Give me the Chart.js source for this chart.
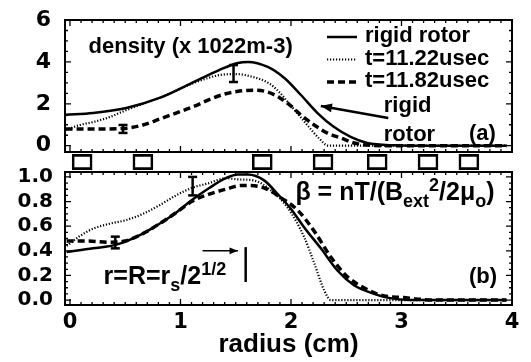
<!DOCTYPE html>
<html>
<head>
<meta charset="utf-8">
<script src="https://cdn.jsdelivr.net/npm/chart.js@4.4.0/dist/chart.umd.min.js"></script>
<style>
  body { margin: 0; background: #fff; }
  #wrap { position: relative; width: 531px; height: 362px; overflow: hidden; }
  canvas { position: absolute; left: 0; }
</style>
</head>
<body>
<div id="wrap">
  <canvas id="top" width="531" height="160" style="top:0"></canvas>
  <canvas id="bottom" width="531" height="202" style="top:160px"></canvas>
  <canvas id="strip" width="531" height="20" style="top:152px"></canvas>
</div>
<script>
// Tick labels
const xTicks = [0, 1, 2, 3, 4];
const densityTicks = [0, 2, 4, 6];
const betaTicks = [0, 0.2, 0.4, 0.6, 0.8, 1.0];
const seriesNames = ['rigid rotor', 't=11.22usec', 't=11.82usec'];

// (a) density, x 10^22 m^-3
const rigidDensityR = [-0.04, 0.21, 0.51, 0.81, 1.10, 1.35, 1.52, 1.61, 1.79, 1.94, 2.09, 2.24, 2.39, 2.54, 2.69, 2.93, 3.2, 3.5, 3.95];
const rigidDensity  = [1.47, 1.56, 1.80, 2.28, 2.99, 3.61, 3.95, 4.0, 3.76, 3.23, 2.42, 1.56, 0.89, 0.42, 0.13, 0.02, 0, 0, 0];
const early1DensityR = [-0.04, 0.09, 0.21, 0.36, 0.51, 0.65, 0.81, 1.10, 1.26, 1.35, 1.50, 1.65, 1.80, 1.89, 1.98, 2.07, 2.16, 2.25, 2.34, 2.6, 3.0, 3.5, 3.95];
const early1Density  = [0.75, 0.99, 1.13, 1.37, 1.70, 1.98, 2.28, 2.95, 3.25, 3.37, 3.42, 3.29, 2.98, 2.58, 2.03, 1.47, 0.91, 0.37, 0.0, 0, 0, 0, 0];
const early2DensityR = [-0.04, 0.2, 0.48, 0.66, 0.81, 0.96, 1.11, 1.26, 1.41, 1.55, 1.66, 1.79, 1.9, 1.99, 2.09, 2.21, 2.33, 2.45, 2.57, 2.69, 2.9, 3.2, 3.95];
const early2Density  = [0.80, 0.80, 0.82, 0.99, 1.27, 1.56, 1.85, 2.20, 2.48, 2.62, 2.65, 2.56, 2.28, 1.94, 1.47, 0.99, 0.60, 0.37, 0.13, 0.03, 0, 0, 0];
const densityErrR  = [0.48, 1.48];
const densityErrLo = [0.61, 3.04];
const densityErrHi = [0.99, 3.85];

// (b) beta
const rigidBetaR = [-0.03, 0.21, 0.42, 0.66, 0.81, 0.96, 1.10, 1.26, 1.41, 1.52, 1.61, 1.76, 1.88, 2.0, 2.12, 2.27, 2.42, 2.57, 2.72, 2.87, 3.08, 3.5, 3.95];
const rigidBeta  = [0.39, 0.42, 0.45, 0.54, 0.62, 0.71, 0.81, 0.91, 0.99, 1.02, 1.02, 0.97, 0.86, 0.74, 0.59, 0.42, 0.24, 0.12, 0.06, 0.02, 0.0, 0, 0];
const early1BetaR = [-0.03, 0.09, 0.21, 0.36, 0.51, 0.66, 0.81, 0.96, 1.10, 1.26, 1.41, 1.52, 1.67, 1.82, 1.97, 2.12, 2.21, 2.30, 2.36, 2.6, 3.0, 3.5, 3.95];
const early1Beta  = [0.44, 0.52, 0.58, 0.62, 0.65, 0.70, 0.77, 0.85, 0.91, 0.95, 0.99, 0.98, 0.97, 0.89, 0.75, 0.51, 0.30, 0.08, 0, 0, 0, 0, 0];
const early2BetaR = [-0.03, 0.15, 0.36, 0.5, 0.66, 0.81, 0.96, 1.10, 1.26, 1.41, 1.55, 1.61, 1.76, 1.91, 2.06, 2.21, 2.36, 2.51, 2.66, 2.81, 3.02, 3.3, 3.95];
const early2Beta  = [0.48, 0.48, 0.47, 0.48, 0.54, 0.62, 0.71, 0.80, 0.86, 0.90, 0.93, 0.93, 0.91, 0.83, 0.73, 0.56, 0.35, 0.19, 0.10, 0.04, 0.02, 0.0, 0];
const betaErrR  = [0.41, 1.11];
const betaErrLo = [0.42, 0.85];
const betaErrHi = [0.515, 1.0];

// probe positions (squares between panels)
const probeR = [0.11, 0.66, 1.74, 2.29, 2.78, 3.24, 3.61];

const X_MIN = -0.045, X_MAX = 4;
const PROBE_BOX = [0.12, 0.88]; // высота квадратика в полосе 0..1
const tickFont = size => ({ family: 'DejaVu Sans', size: size, weight: 'bold' });
const textFont = size => 'bold ' + size + 'px "Liberation Sans", Arial, sans-serif';

const lineStyles = [
  { borderWidth: 2.5, borderDash: [] },
  { borderWidth: 2.2, borderDash: [1.2, 1.8] },
  { borderWidth: 3.5, borderDash: [7, 4] }
];

function zip(xs, ys) {
  return xs.map((x, i) => ({ x: x, y: ys[i] }));
}

// три кривые + планки ошибок
function makeDatasets(curves, errR, errLo, errHi) {
  const sets = curves.map((c, i) => ({
    label: seriesNames[i],
    data: zip(c[0], c[1]),
    borderColor: '#000',
    borderWidth: lineStyles[i].borderWidth,
    borderDash: lineStyles[i].borderDash,
    pointRadius: 0,
    tension: 0.4,
    cubicInterpolationMode: 'monotone',
    fill: false
  }));
  errR.forEach((r, i) => {
    sets.push({
      errorBar: true,
      data: [{ x: r, y: errLo[i] }, { x: r, y: errHi[i] }],
      borderColor: '#000',
      borderWidth: 2.5,
      pointStyle: 'line',
      pointRadius: 4.5,
      pointBorderWidth: 2.5,
      pointBorderColor: '#000'
    });
  });
  return sets;
}

// фиксированная ширина/высота оси без запаса под подписи
const fixSize = (w, h) => s => {
  if (w) s.width = w;
  if (h) s.height = h;
  s.paddingTop = 0; s.paddingBottom = 0; s.paddingLeft = 0; s.paddingRight = 0;
};

// рамка и внутренние засечки
const framePlugin = {
  id: 'frame',
  afterDraw(chart, args, opts) {
    const { ctx, chartArea: a, scales: { x, y } } = chart;
    ctx.save();
    ctx.strokeStyle = '#000';
    ctx.lineWidth = 1.3;
    const marks = (scale, minor, major, draw) => {
      const n0 = Math.ceil(scale.min / minor - 1e-6);
      const n1 = Math.floor(scale.max / minor + 1e-6);
      for (let n = n0; n <= n1; n++) {
        const v = n * minor;
        const isMajor = Math.abs(v / major - Math.round(v / major)) < 1e-6;
        draw(scale.getPixelForValue(v), isMajor ? opts.majorLen : opts.minorLen);
      }
    };
    ctx.beginPath();
    marks(x, opts.xMinor, opts.xMajor, (p, len) => {
      ctx.moveTo(p, a.bottom); ctx.lineTo(p, a.bottom - len);
      ctx.moveTo(p, a.top); ctx.lineTo(p, a.top + len);
    });
    marks(y, opts.yMinor, opts.yMajor, (p, len) => {
      ctx.moveTo(a.left, p); ctx.lineTo(a.left + len, p);
      ctx.moveTo(a.right, p); ctx.lineTo(a.right - len, p);
    });
    ctx.stroke();
    ctx.lineWidth = 2;
    ctx.strokeRect(a.left, a.top, a.right - a.left, a.bottom - a.top);
    ctx.restore();
  }
};

function arrowHead(ctx, x0, y0, x1, y1, len) {
  const ang = Math.atan2(y1 - y0, x1 - x0);
  ctx.beginPath();
  ctx.moveTo(x1, y1);
  ctx.lineTo(x1 - len * Math.cos(ang - 0.38), y1 - len * Math.sin(ang - 0.38));
  ctx.lineTo(x1 - len * Math.cos(ang + 0.38), y1 - len * Math.sin(ang + 0.38));
  ctx.closePath();
  ctx.fill();
}

// надписи, стрелки, отметки
const notesPlugin = {
  id: 'notes',
  afterDraw(chart, args, opts) {
    const { ctx, scales: { x, y } } = chart;
    ctx.save();
    ctx.fillStyle = '#000';
    ctx.strokeStyle = '#000';
    ctx.textBaseline = 'alphabetic';
    ctx.textAlign = 'left';
    (opts.texts || []).forEach(t => {
      let cx = x.getPixelForValue(t.x);
      const cy = y.getPixelForValue(t.y);
      t.parts.forEach(p => {
        const small = p.sub || p.sup;
        ctx.font = textFont(small ? Math.round(t.size * 0.72) : t.size);
        const dy = p.sub ? t.size * 0.28 : (p.sup ? -t.size * 0.36 : 0);
        ctx.fillText(p.t, cx, cy + dy);
        cx += ctx.measureText(p.t).width;
      });
    });
    (opts.arrows || []).forEach(ar => {
      const x0 = x.getPixelForValue(ar.from[0]), y0 = y.getPixelForValue(ar.from[1]);
      const x1 = x.getPixelForValue(ar.to[0]), y1 = y.getPixelForValue(ar.to[1]);
      ctx.lineWidth = ar.width;
      ctx.beginPath();
      ctx.moveTo(x0, y0);
      ctx.lineTo(x1, y1);
      ctx.stroke();
      arrowHead(ctx, x0, y0, x1, y1, ar.head);
    });
    (opts.bars || []).forEach(b => {
      const px = x.getPixelForValue(b.x);
      ctx.lineWidth = b.width;
      ctx.beginPath();
      ctx.moveTo(px, y.getPixelForValue(b.y0));
      ctx.lineTo(px, y.getPixelForValue(b.y1));
      ctx.stroke();
    });
    ctx.restore();
  }
};

// легенда внутри верхней панели
const keyPlugin = {
  id: 'lineKey',
  afterDraw(chart, args, opts) {
    const { ctx } = chart;
    ctx.save();
    ctx.font = textFont(opts.size);
    ctx.fillStyle = '#000';
    ctx.strokeStyle = '#000';
    ctx.textBaseline = 'alphabetic';
    chart.data.datasets.filter(d => !d.errorBar).forEach((d, i) => {
      const base = opts.top + i * opts.gap;
      ctx.lineWidth = d.borderWidth;
      ctx.setLineDash(d.borderDash || []);
      ctx.beginPath();
      ctx.moveTo(opts.left, base - 5);
      ctx.lineTo(opts.left + opts.len, base - 5);
      ctx.stroke();
      ctx.setLineDash([]);
      ctx.fillText(d.label, opts.left + opts.len + 8, base);
    });
    ctx.restore();
  }
};

const setTicks = list => scale => { scale.ticks = list.map(v => ({ value: v })); };
const noGrid = { display: false, drawTicks: false };

// (a) плотность
new Chart(document.getElementById('top'), {
  type: 'line',
  data: {
    datasets: makeDatasets(
      [[rigidDensityR, rigidDensity], [early1DensityR, early1Density], [early2DensityR, early2Density]],
      densityErrR, densityErrLo, densityErrHi)
  },
  options: {
    responsive: false,
    animation: false,
    layout: { padding: { top: 20, right: 19, bottom: 8, left: 0 } },
    scales: {
      x: { type: 'linear', min: X_MIN, max: X_MAX, display: false },
      y: {
        min: -0.3, max: 6,
        afterFit: fixSize(65, 0),
        afterBuildTicks: setTicks(densityTicks),
        grid: noGrid,
        border: { display: false },
        ticks: { padding: 14, autoSkip: false, color: '#000', font: tickFont(22) }
      }
    },
    plugins: {
      legend: { display: false },
      tooltip: { enabled: false },
      frame: { xMinor: 0.1, xMajor: 1, yMinor: 0.5, yMajor: 2, minorLen: 3, majorLen: 6 },
      lineKey: { left: 327, top: 42, gap: 22.5, len: 30, size: 22 },
      notes: {
        texts: [
          { parts: [{ t: 'density (x 1022m-3)' }], x: 0.168, y: 4.42, size: 22 },
          { parts: [{ t: 'rigid' }], x: 2.84, y: 1.60, size: 22 },
          { parts: [{ t: 'rotor' }], x: 2.84, y: 0.22, size: 22 },
          { parts: [{ t: '(a)' }], x: 3.61, y: 0.27, size: 22 }
        ],
        arrows: [{ from: [2.88, 1.32], to: [2.27, 1.90], width: 2.5, head: 12 }]
      }
    }
  },
  plugins: [framePlugin, notesPlugin, keyPlugin]
});

// (b) бета
new Chart(document.getElementById('bottom'), {
  type: 'line',
  data: {
    datasets: makeDatasets(
      [[rigidBetaR, rigidBeta], [early1BetaR, early1Beta], [early2BetaR, early2Beta]],
      betaErrR, betaErrLo, betaErrHi)
  },
  options: {
    responsive: false,
    animation: false,
    layout: { padding: { top: 12, right: 19, bottom: 0, left: 0 } },
    scales: {
      x: {
        type: 'linear', min: X_MIN, max: X_MAX,
        afterFit: fixSize(0, 57),
        afterBuildTicks: setTicks(xTicks),
        grid: noGrid,
        border: { display: false },
        ticks: { padding: 5, autoSkip: false, maxRotation: 0, color: '#000', font: tickFont(21) },
        title: {
          display: true,
          text: 'radius (cm)',
          color: '#000',
          font: { family: 'Liberation Sans', size: 26, weight: 'bold' },
          padding: { top: 0, bottom: 2 }
        }
      },
      y: {
        min: -0.04, max: 1.04,
        afterFit: fixSize(65, 0),
        afterBuildTicks: setTicks(betaTicks),
        grid: noGrid,
        border: { display: false },
        ticks: { padding: 12, autoSkip: false, color: '#000', font: tickFont(20), callback: v => v.toFixed(1) }
      }
    },
    plugins: {
      legend: { display: false },
      tooltip: { enabled: false },
      frame: { xMinor: 0.1, xMajor: 1, yMinor: 0.05, yMajor: 0.2, minorLen: 3, majorLen: 6 },
      notes: {
        texts: [
          { parts: [{ t: 'β = nT/(B' }, { t: 'ext', sub: true }, { t: '2', sup: true }, { t: '/2μ' }, { t: 'o', sub: true }, { t: ')' }], x: 2.04, y: 0.813, size: 25 },
          { parts: [{ t: '(b)' }], x: 3.61, y: 0.139, size: 22 },
          { parts: [{ t: 'r=R=r' }, { t: 's', sub: true }, { t: '/2' }, { t: '1/2', sup: true }], x: 0.304, y: 0.131, size: 25 }
        ],
        arrows: [{ from: [1.20, 0.40], to: [1.52, 0.40], width: 1.5, head: 9 }],
        bars: [{ x: 1.59, y0: 0.147, y1: 0.43, width: 2.5 }]
      }
    }
  },
  plugins: [framePlugin, notesPlugin]
});

// квадратики зондов между панелями
new Chart(document.getElementById('strip'), {
  type: 'bar',
  data: {
    datasets: [{
      data: probeR.map(r => ({ x: r, y: PROBE_BOX })),
      backgroundColor: '#fff',
      borderColor: '#000',
      borderWidth: 2.6,
      borderSkipped: false,
      barThickness: 20
    }]
  },
  options: {
    responsive: false,
    animation: false,
    layout: { padding: { top: 0, right: 19, bottom: 0, left: 65 } },
    scales: {
      x: { type: 'linear', min: X_MIN, max: X_MAX, offset: false, display: false },
      y: { min: 0, max: 1, display: false }
    },
    plugins: { legend: { display: false }, tooltip: { enabled: false } }
  }
});
</script>
</body>
</html>
